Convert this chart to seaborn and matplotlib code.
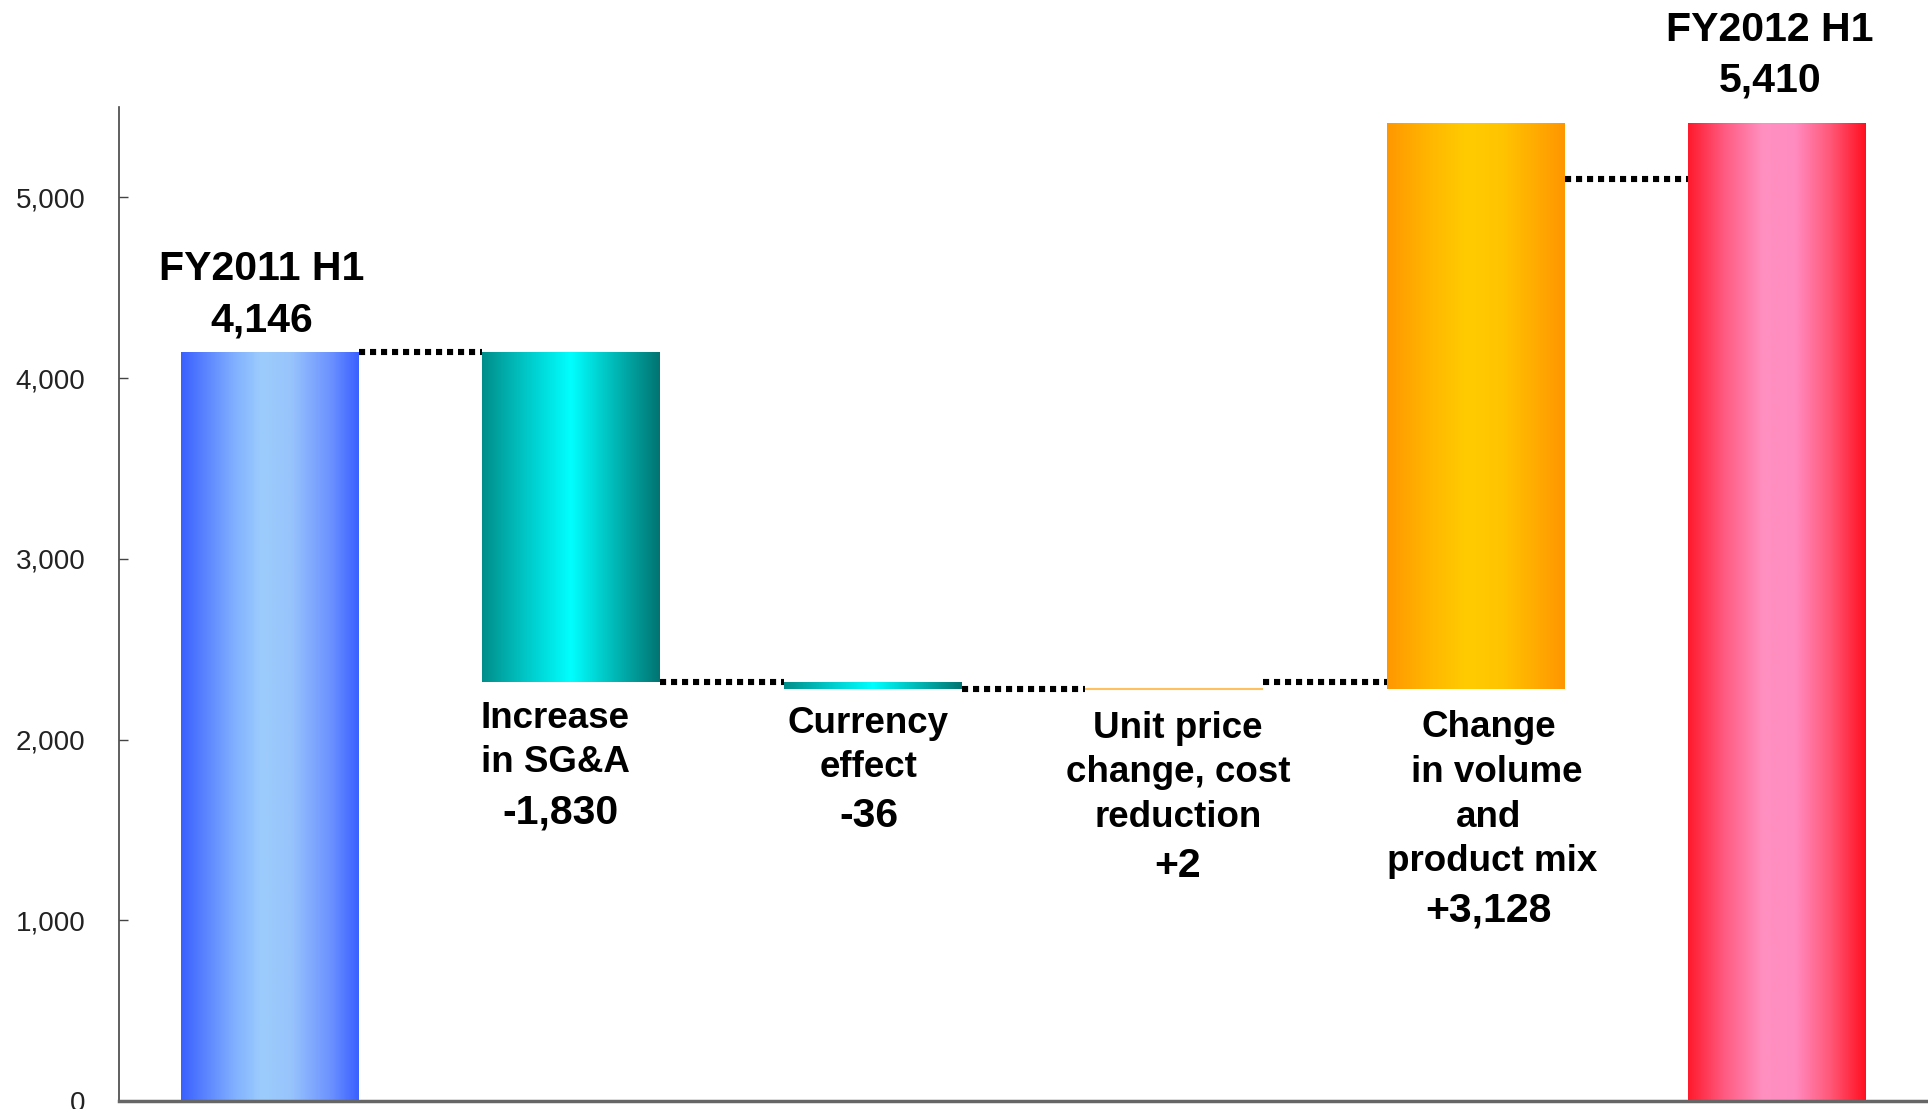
import numpy as np
import pandas as pd
import matplotlib
matplotlib.use("Agg")
import matplotlib.pyplot as plt
from matplotlib.colors import LinearSegmentedColormap
import seaborn as sns

# ---------------- data ----------------
categories = ["FY2011 H1", "Increase in SG&A", "Currency effect",
              "Unit price change, cost reduction",
              "Change in volume and product mix", "FY2012 H1"]
changes = [4146, -1830, -36, 2, 3128, 5410]
is_total = [True, False, False, False, False, True]
# connector (dotted line) levels as drawn in the original
connector_levels = [4146, 2316, 2280, 2316, 5100]
yticks = [0, 1000, 2000, 3000, 4000, 5000]
ytick_labels = ["0", "1,000", "2,000", "3,000", "4,000", "5,000"]

# label text blocks: (category lines, value text)
label_lines = [
    ["FY2011 H1"],
    ["Increase", "in SG&A"],
    ["Currency", "effect"],
    ["Unit price", "change, cost", "reduction"],
    ["Change", "in volume", "and", "product mix"],
    ["FY2012 H1"],
]
value_labels = ["4,146", "-1,830", "-36", "+2", "+3,128", "5,410"]

# ---------------- compute waterfall ----------------
bottoms, heights = [], []
running = 0
for c, t in zip(changes, is_total):
    if t:
        bottoms.append(0)
        heights.append(c)
        running = c
    else:
        if c >= 0:
            bottoms.append(running)
            heights.append(c)
        else:
            bottoms.append(running + c)
            heights.append(-c)
        running += c

df = pd.DataFrame({"category": categories, "height": heights})

# ---------------- style ----------------
sns.set_theme(style="white")
plt.rcParams["font.family"] = ["Liberation Sans", "DejaVu Sans"]

fig = plt.figure(figsize=(19.28, 11.09), dpi=100)
ax = fig.add_axes([0.0617, 0.0072, 0.9383, 0.8963])

sns.barplot(data=df, x="category", y="height", bottom=bottoms,
            order=categories, width=0.59, color="white",
            errorbar=None, ax=ax, linewidth=0)

gradients = [
    [(0.0, "#3a60ff"), (0.3, "#80b0ff"), (0.45, "#9cccfc"), (0.62, "#98c4fc"), (0.85, "#6a90ff"), (1.0, "#3a60ff")],
    [(0.0, "#008e8a"), (0.25, "#00c8c8"), (0.5, "#00ffff"), (0.75, "#00b8b6"), (1.0, "#007472")],
    [(0.0, "#008e8a"), (0.25, "#00c8c8"), (0.5, "#00ffff"), (0.75, "#00b8b6"), (1.0, "#007472")],
    [(0.0, "#ff9a40"), (0.5, "#ffc060"), (1.0, "#ff9a40")],
    [(0.0, "#ff9800"), (0.25, "#ffb800"), (0.45, "#ffcc00"), (0.65, "#ffc400"), (1.0, "#ff9600")],
    [(0.0, "#ff1a2c"), (0.2, "#ff5a80"), (0.42, "#ff90c0"), (0.6, "#ff8cc0"), (0.8, "#ff5878"), (1.0, "#ff1020")],
]

grad = np.linspace(0, 1, 256).reshape(1, -1)
for i, p in enumerate(ax.patches):
    x0, y0 = p.get_x(), p.get_y()
    w, h = p.get_width(), p.get_height()
    cmap = LinearSegmentedColormap.from_list(f"g{i}", gradients[i])
    if h < 20:
        p.set_facecolor(cmap(0.5))
        p.set_edgecolor(cmap(0.5))
        p.set_linewidth(1.5)
        continue
    p.set_facecolor("none")
    im = ax.imshow(grad, cmap=cmap, extent=[x0, x0 + w, y0, y0 + h],
                   aspect="auto", origin="lower", interpolation="bicubic",
                   zorder=p.get_zorder() + 0.1)
    im.set_clip_path(p)

# connectors
bw = 0.59
for i, lvl in enumerate(connector_levels):
    ax.plot([i + bw / 2, i + 1 - bw / 2], [lvl, lvl], color="black",
            linewidth=4.4, linestyle=(0, (1.0, 0.8)), dash_capstyle="butt",
            zorder=5)

# axes styling
ax.set_xlim(-0.5, 5.5)
ax.set_ylim(0, 5500)
ax.set_yticks(yticks)
ax.set_yticklabels(ytick_labels)
ax.set_xticks([])
ax.set_xlabel("")
ax.set_ylabel("")
for s in ["top", "right"]:
    ax.spines[s].set_visible(False)
ax.spines["left"].set_color("#444444")
ax.spines["left"].set_linewidth(1.2)
ax.spines["bottom"].set_color("#666666")
ax.spines["bottom"].set_linewidth(2.5)
ax.tick_params(axis="y", direction="in", length=6.5, width=1, color="#444444",
               pad=24, labelsize=20, labelcolor="#222222", left=True)
ax.set_facecolor("white")
fig.patch.set_facecolor("white")

# labels
label_pos = [
    [(-0.026, 4605)],
    [(0.947, 2116), (0.947, 1871)],
    [(1.986, 2088), (1.986, 1844)],
    [(3.012, 2061), (3.012, 1816), (3.012, 1571)],
    [(4.043, 2068), (4.071, 1816), (4.043, 1571), (4.055, 1327)],
    [(4.976, 5925)],
]
value_pos = [(-0.026, 4320), (0.963, 1599), (1.986, 1578), (3.012, 1299),
             (4.043, 1054), (4.976, 5646)]

for i in range(len(categories)):
    fs = 29.5 if is_total[i] else 26.5
    for txt, (x, y) in zip(label_lines[i], label_pos[i]):
        ax.text(x, y, txt, ha="center", va="center", fontsize=fs,
                fontweight="bold", color="black", zorder=6, clip_on=False)
    x, y = value_pos[i]
    ax.text(x, y, value_labels[i], ha="center", va="center", fontsize=29.5,
            fontweight="bold", color="black", zorder=6, clip_on=False)

fig.savefig("out.png", dpi=100, facecolor="white")
